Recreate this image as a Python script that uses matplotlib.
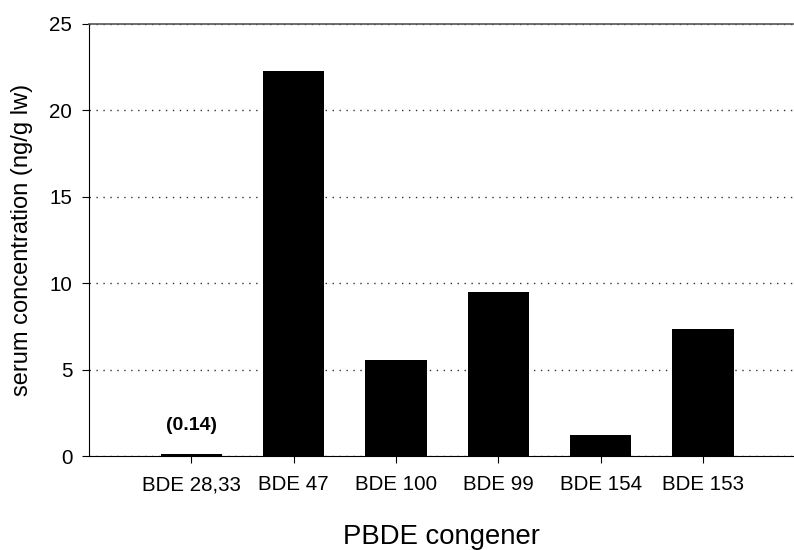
import numpy as np
import matplotlib.pyplot as plt

plt.rcParams['font.family'] = ['Liberation Sans', 'DejaVu Sans']

# Daten
congeners = ["BDE 28,33", "BDE 47", "BDE 100", "BDE 99", "BDE 154", "BDE 153"]
conc = [0.14, 22.3, 5.53, 9.47, 1.2, 7.33]
yticks = [0, 5, 10, 15, 20, 25]

fig = plt.figure(figsize=(7.94, 5.5), dpi=100)
ax = fig.add_axes([0.1121, 0.1709, 0.8869, 0.7855])

x = np.arange(len(congeners))
ax.bar(x, conc, width=0.6, color='black', zorder=3)

# Wert für den kleinen Balken
ax.annotate("(0.14)", (x[0], conc[0]), xytext=(0, 14), textcoords='offset points',
            ha='center', va='bottom', fontsize=14, fontweight='bold')

ax.set_xlim(-1.0, 5.88)
ax.set_ylim(0, 25)
ax.set_yticks(yticks)
ax.set_xticks(x)
ax.set_xticklabels(congeners)

ax.yaxis.grid(True, linestyle=(0, (1, 4)), color='#333333', linewidth=1.0, zorder=0)
ax.spines['right'].set_visible(False)
ax.spines['top'].set_color('#555555')
ax.spines['top'].set_linewidth(1.2)

ax.tick_params(axis='both', direction='out', length=5, labelsize=14.8)
ax.tick_params(axis='y', pad=7)
ax.tick_params(axis='x', pad=9)

ax.set_xlabel("PBDE congener", fontsize=19.8, labelpad=21)
ax.set_ylabel("serum concentration (ng/g lw)", fontsize=17, labelpad=12)

plt.savefig("out.png", dpi=100)
